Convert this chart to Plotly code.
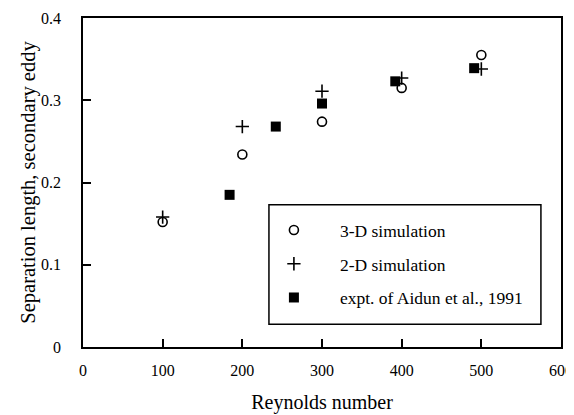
import plotly.graph_objects as go

re_3d = [100, 200, 300, 400, 500]
sep_3d = [0.152, 0.234, 0.274, 0.315, 0.355]

re_2d = [100, 200, 300, 400, 500]
sep_2d = [0.158, 0.268, 0.311, 0.327, 0.338]

re_exp = [184, 242, 300, 392, 491]
sep_exp = [0.185, 0.268, 0.296, 0.323, 0.339]

names = ["3-D simulation", "2-D simulation", "expt. of Aidun et al., 1991"]

FONT = "Liberation Serif, Times New Roman, serif"

fig = go.Figure()
fig.add_trace(go.Scatter(x=re_3d, y=sep_3d, mode="markers", name=names[0], legendgroup="a",
                         marker=dict(symbol="circle-open", size=9, color="black", line=dict(width=1.6, color="black"))))
fig.add_trace(go.Scatter(x=re_2d, y=sep_2d, mode="markers", name=names[1], legendgroup="b",
                         marker=dict(symbol="cross-thin-open", size=9.5, color="black", line=dict(width=1.6, color="black"))))
fig.add_trace(go.Scatter(x=re_exp, y=sep_exp, mode="markers", name=names[2], legendgroup="c",
                         marker=dict(symbol="square", size=10, color="black", line=dict(width=0))))

axis_common = dict(showgrid=False, zeroline=False, showline=True, linecolor="black", linewidth=1.5,
                   mirror=True, ticks="inside", ticklen=8, tickwidth=1.5, tickcolor="black",
                   automargin=False,
                   tickfont=dict(family=FONT, size=16, color="black"))

fig.update_xaxes(range=[0, 600], dtick=100, tick0=0, ticklabelstandoff=8,
                 title=dict(text="Reynolds number", font=dict(family=FONT, size=20, color="black"), standoff=17),
                 **axis_common)
fig.update_yaxes(range=[0, 0.4], dtick=0.1, tick0=0, ticklabelstandoff=17,
                 title=dict(text="Separation length, secondary eddy", font=dict(family=FONT, size=20.5, color="black"), standoff=0),
                 **axis_common)

# legend frame
fig.add_shape(type="rect", xref="paper", yref="paper", x0=0.389, x1=0.958, y0=0.069, y1=0.4326,
              line=dict(color="black", width=1.5), fillcolor="rgba(0,0,0,0)", layer="above")

fig.update_layout(
    width=566, height=407,
    margin=dict(l=75, r=13, t=9.5, b=68),
    paper_bgcolor="white", plot_bgcolor="white",
    showlegend=True,
    legend=dict(x=0.345, y=0.41, xanchor="left", yanchor="top",
                borderwidth=0, bgcolor="rgba(0,0,0,0)",
                font=dict(family=FONT, size=17.5, color="black"),
                tracegroupgap=8, itemwidth=82),
)

fig.write_html("out.html")
